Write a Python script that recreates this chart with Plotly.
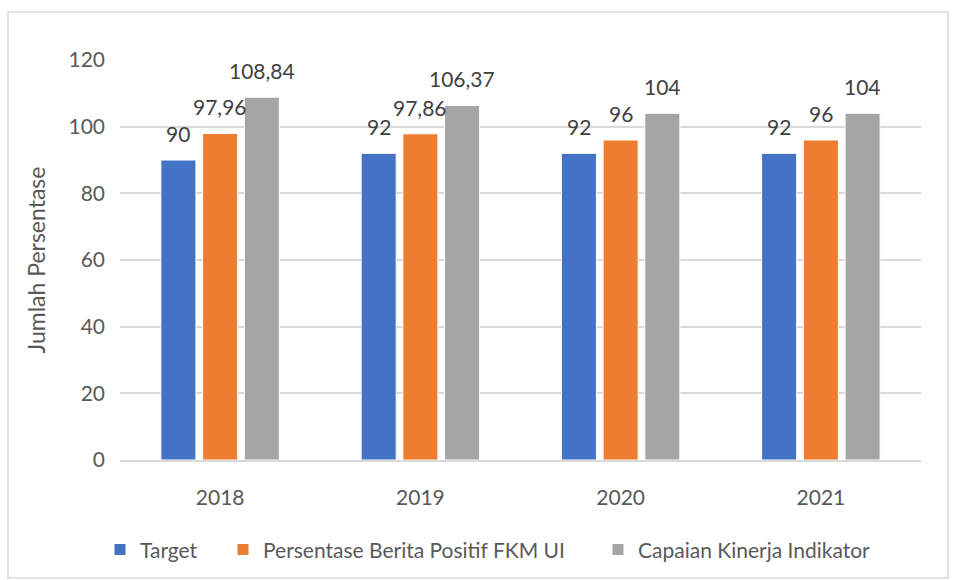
import plotly.graph_objects as go

years = ["2018", "2019", "2020", "2021"]
target = [90, 92, 92, 92]
berita_positif = [97.96, 97.86, 96, 96]
capaian = [108.84, 106.37, 104, 104]

series = [
    ("Target", target, "#4472C4"),
    ("Persentase Berita Positif FKM UI", berita_positif, "#ED7D31"),
    ("Capaian Kinerja Indikator", capaian, "#A5A5A5"),
]

BARGAP = 0.375
BARGROUPGAP = 0.16

# left edge (px) of each legend entry along the bottom row
legend_left_px = [100, 223, 598]


def fmt(v):
    s = f"{v:.2f}".rstrip("0").rstrip(".")
    return s.replace(".", ",")


font_family = "Lato, 'Open Sans', sans-serif"
text_color = "#595959"
W, H = 957, 580

fig = go.Figure()
annotations = []
n = len(series)
slot = (1 - BARGAP) / n  # width of one bar slot in category units
legend_ids = ["legend", "legend2", "legend3"]
for i, (name, vals, color) in enumerate(series):
    fig.add_trace(go.Bar(
        x=years, y=vals, name=name, legend=legend_ids[i],
        marker=dict(color=color, line=dict(color="white", width=1)),
    ))
    # value labels floating a little above each bar
    for k, v in enumerate(vals):
        annotations.append(dict(
            x=k + (i - (n - 1) / 2) * slot, y=v, xref="x", yref="y",
            text=fmt(v), showarrow=False, yanchor="bottom", yshift=12,
            font=dict(size=21, color="#404040", family=font_family),
        ))

legend_style = dict(
    orientation="h", xanchor="left", xref="container",
    y=0.052, yanchor="middle", yref="container",
    font=dict(size=21, color=text_color), itemwidth=30, bgcolor="rgba(0,0,0,0)",
)

fig.update_layout(
    width=W, height=H,
    margin=dict(l=120, r=36, t=60, b=120, autoexpand=False),
    paper_bgcolor="white", plot_bgcolor="white",
    barmode="group", bargap=BARGAP, bargroupgap=BARGROUPGAP,
    font=dict(family=font_family, color=text_color, size=21),
    showlegend=True,
    legend=dict(x=legend_left_px[0] / W, **legend_style),
    legend2=dict(x=legend_left_px[1] / W, **legend_style),
    legend3=dict(x=legend_left_px[2] / W, **legend_style),
    yaxis=dict(range=[0, 120], dtick=20, showgrid=True, gridcolor="#D9D9D9", gridwidth=1.5,
               zeroline=False, showline=False, ticks="", ticklabelstandoff=14,
               tickfont=dict(size=21, color=text_color),
               title=dict(text="Jumlah Persentase", font=dict(size=23, color=text_color), standoff=16)),
    xaxis=dict(showline=True, linecolor="#D9D9D9", linewidth=1.5, ticks="", ticklabelstandoff=18,
               tickfont=dict(size=21, color=text_color)),
    annotations=annotations,
    shapes=[dict(type="rect", xref="paper", yref="paper",
                 x0=-112 / 801, x1=1 + 27 / 801, y0=-118 / 400, y1=1 + 48 / 400,
                 line=dict(color="#D9D9D9", width=1.5), fillcolor="rgba(0,0,0,0)", layer="below")],
)

fig.write_html("out.html")
